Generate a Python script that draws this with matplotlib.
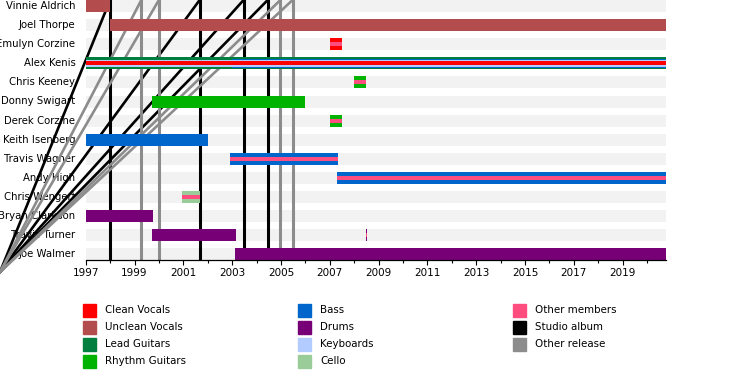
"""Band member timeline (EasyTimeline style) rebuilt with matplotlib."""
import matplotlib

matplotlib.use("Agg")
import matplotlib.pyplot as plt
from matplotlib.lines import Line2D
from matplotlib.patches import Rectangle

plt.rcParams.update({"font.family": "DejaVu Sans", "font.size": 7.4})

START, END = 1997.0, 2020.78

MEMBERS = ["Vinnie Aldrich", "Joel Thorpe", "Emulyn Corzine", "Alex Kenis", "Chris Keeney",
           "Donny Swigart", "Derek Corzine", "Keith Isenberg", "Travis Wagner", "Andy High",
           "Chris Wengert", "Bryan Clarkson", "Travis Turner", "Joe Walmer"]

COLORS = {
    "Clean Vocals": "#ff0000",
    "Unclean Vocals": "#b34d4d",
    "Lead Guitars": "#007f3f",
    "Rhythm Guitars": "#00b300",
    "Bass": "#0066cc",
    "Drums": "#770077",
    "Keyboards": "#b3ccff",
    "Cello": "#99cc99",
    "Other members": "#ff4d80",
    "Studio album": "#000000",
    "Other release": "#8c8c8c",
}

# (member, role, start, end, bar-height fraction) — drawn in this order
PERIODS = [
    ("Vinnie Aldrich", "Unclean Vocals", 1997.0, 1998.0, 1.0),
    ("Joel Thorpe", "Unclean Vocals", 1998.0, END, 1.0),
    ("Emulyn Corzine", "Clean Vocals", 2007.0, 2007.5, 1.0),
    ("Emulyn Corzine", "Other members", 2007.0, 2007.5, 0.34),
    ("Alex Kenis", "Lead Guitars", 1997.0, END, 1.0),
    ("Alex Kenis", "Bass", 2003.0, END, 0.75),
    ("Alex Kenis", "Keyboards", 1997.0, END, 0.58),
    ("Alex Kenis", "Clean Vocals", 1997.0, END, 0.34),
    ("Chris Keeney", "Rhythm Guitars", 2008.0, 2008.5, 1.0),
    ("Chris Keeney", "Other members", 2008.0, 2008.5, 0.34),
    ("Donny Swigart", "Rhythm Guitars", 1999.71, 2006.0, 1.0),
    ("Derek Corzine", "Rhythm Guitars", 2007.0, 2007.5, 1.0),
    ("Derek Corzine", "Other members", 2007.0, 2007.5, 0.34),
    ("Keith Isenberg", "Bass", 1997.0, 2002.0, 1.0),
    ("Travis Wagner", "Bass", 2002.93, 2007.33, 1.0),
    ("Travis Wagner", "Other members", 2002.93, 2007.33, 0.34),
    ("Andy High", "Bass", 2007.29, END, 1.0),
    ("Andy High", "Other members", 2007.29, END, 0.34),
    ("Chris Wengert", "Cello", 2000.93, 2001.68, 1.0),
    ("Chris Wengert", "Other members", 2000.93, 2001.68, 0.34),
    ("Bryan Clarkson", "Drums", 1997.0, 1999.75, 1.0),
    ("Travis Turner", "Drums", 1999.71, 2003.15, 1.0),
    ("Travis Turner", "Drums", 2008.47, 2008.52, 1.0),
    ("Travis Turner", "Other members", 2008.47, 2008.52, 0.34),
    ("Joe Walmer", "Drums", 2003.11, END, 1.0),
]

STUDIO_ALBUMS = [1998.0, 2001.67, 2003.47, 2004.46]
OTHER_RELEASES = [1999.28, 2000.0, 2004.98, 2005.48]

LEGEND_COLS = [
    ["Clean Vocals", "Unclean Vocals", "Lead Guitars", "Rhythm Guitars"],
    ["Bass", "Drums", "Keyboards", "Cello"],
    ["Other members", "Studio album", "Other release"],
]

W, H = 750, 385
ROW_PX, BAR_PX = 19.1, 12.0
BAR_H = BAR_PX / ROW_PX

fig = plt.figure(figsize=(W / 100, H / 100), dpi=100)
ax = fig.add_axes([85.7 / W, (H - 260) / H, (666 - 85.7) / W, 260 / H])
ax.set_xlim(START, END)
ax.set_ylim(254 / ROW_PX, -6 / ROW_PX)

row = {m: i for i, m in enumerate(MEMBERS)}

# light row bands + names (the longest name runs off the left edge, as in the source)
for i, m in enumerate(MEMBERS):
    ax.barh(i, END - START, left=START, height=BAR_H, color="#f2f2f2", zorder=0.5)
    ax.annotate(m, (START, i), xytext=(-7.4, 0), textcoords="offset points", ha="right",
                va="center", fontsize=7.3, annotation_clip=False, zorder=1)

# release markers: vertical line + the stray diagonal from the lower-left corner
origin = ax.transData.inverted().transform(fig.transFigure.transform((0, (H - 272) / H)))
ymin, ymax = ax.get_ylim()
for dates, key in ((STUDIO_ALBUMS, "Studio album"), (OTHER_RELEASES, "Other release")):
    for d in dates:
        ax.axvline(d, color=COLORS[key], lw=2.2, zorder=2)
        ax.add_line(Line2D([origin[0], d], [origin[1], ymax], color=COLORS[key], lw=1.9,
                           zorder=2, clip_on=False))

for k, (m, role, s, e, frac) in enumerate(PERIODS):
    ax.barh(row[m], e - s, left=s, height=BAR_H * frac, color=COLORS[role], zorder=3 + k * 0.01)

for side in ("left", "top", "right"):
    ax.spines[side].set_visible(False)
ax.spines["bottom"].set_linewidth(0.9)
ax.spines["bottom"].set_zorder(4)
ax.set_yticks([])
ax.set_xticks(range(1997, 2021, 2))
ax.set_xticks(range(1997, 2021), minor=True)
ax.tick_params(axis="x", which="major", length=3.6, width=0.8, pad=2, labelsize=7.5)
ax.tick_params(axis="x", which="minor", length=2.4, width=0.8)

# legend, three columns filled top-down
for c, names in enumerate(LEGEND_COLS):
    for r, name in enumerate(names):
        x0, yc = 83 + c * 215, 310 + r * 17
        fig.add_artist(Rectangle((x0 / W, (H - yc - 6.5) / H), 13 / W, 13 / H,
                                 transform=fig.transFigure, color=COLORS[name]))
        fig.text((x0 + 22) / W, (H - yc) / H, name, ha="left", va="center", fontsize=7.4)

fig.savefig("out.png", dpi=100)
